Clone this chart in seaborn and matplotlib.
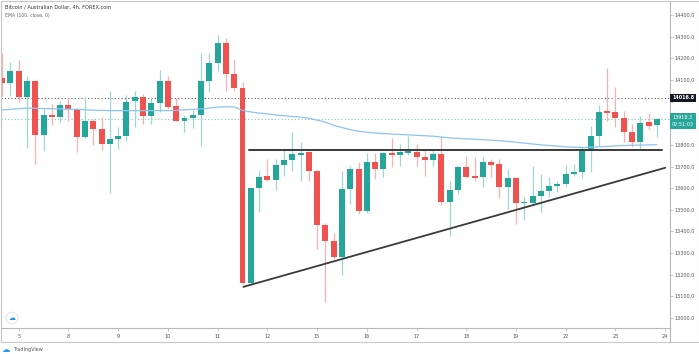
import numpy as np
import pandas as pd
import matplotlib
matplotlib.use("Agg")
import matplotlib.pyplot as plt
from matplotlib.lines import Line2D
from matplotlib.patches import Rectangle
import seaborn as sns

# ---- data (BTC/AUD, 4h candles) ----
opens = [14108, 14088, 14139, 14019, 14096, 13847, 13939, 13930, 13985, 13966,
         13835, 13912, 13874, 13804, 13827, 13843, 14001, 14022, 13932, 13993,
         14093, 13978, 13912, 13922, 13939, 14096, 14176, 14272, 14127, 14062,
         13160, 13600, 13654, 13639, 13709, 13731, 13754, 13766, 13681, 13428,
         13356, 13282, 13595, 13687, 13494, 13723, 13689, 13761, 13754, 13764,
         13769, 13743, 13731, 13757, 13534, 13593, 13697, 13654, 13651, 13720,
         13712, 13605, 13648, 13531, 13531, 13562, 13589, 13608, 13617, 13666,
         13675, 13781, 13843, 13955, 13950, 13924, 13861, 13812, 13904, 13890]
highs = [14226, 14183, 14191, 14119, 14100, 13966, 13989, 14004, 14019, 13970,
         14022, 13920, 13927, 14047, 13884, 14032, 14050, 14035, 14022, 14148,
         14119, 14016, 13939, 13961, 14224, 14224, 14308, 14295, 14196, 14091,
         13602, 13685, 13735, 13735, 13786, 13861, 13812, 13770, 13685, 13440,
         13393, 13681, 13704, 13720, 13761, 13761, 13766, 13832, 13804, 13843,
         13804, 13774, 13777, 13843, 13635, 13704, 13750, 13743, 13743, 13735,
         13735, 13689, 13650, 13558, 13704, 13666, 13651, 13635, 13709, 13712,
         13789, 13889, 13984, 14157, 14065, 13958, 13897, 13935, 13945, 13925]
lows = [14027, 14027, 13996, 13786, 13712, 13770, 13892, 13904, 13912, 13769,
        13832, 13801, 13778, 13577, 13781, 13816, 13881, 13897, 13897, 13950,
        13966, 13910, 13858, 13878, 13797, 14042, 14142, 14050, 14050, 13158,
        13152, 13489, 13635, 13593, 13654, 13681, 13635, 13631, 13321, 13075,
        13275, 13198, 13528, 13482, 13485, 13643, 13651, 13697, 13704, 13751,
        13704, 13658, 13704, 13520, 13377, 13574, 13645, 13635, 13605, 13651,
        13556, 13505, 13433, 13451, 13528, 13489, 13558, 13581, 13605, 13658,
        13648, 13674, 13797, 13912, 13881, 13812, 13792, 13781, 13874, 13835]
closes = [14088, 14139, 14019, 14096, 13847, 13938, 13927, 13985, 13966, 13838,
          13912, 13874, 13804, 13827, 13843, 13999, 14022, 13932, 13993, 14093,
          13976, 13912, 13924, 13939, 14096, 14176, 14272, 14127, 14062, 13160,
          13600, 13651, 13639, 13709, 13731, 13758, 13764, 13681, 13428, 13356,
          13282, 13595, 13687, 13494, 13723, 13689, 13761, 13754, 13769, 13770,
          13743, 13731, 13757, 13534, 13593, 13697, 13651, 13649, 13720, 13709,
          13605, 13648, 13531, 13536, 13562, 13589, 13608, 13617, 13666, 13675,
          13781, 13843, 13950, 13947, 13924, 13861, 13812, 13903, 13887, 13918.3]
ema100 = [13961, 13964, 13967, 13970, 13969, 13968, 13967, 13966, 13965, 13964,
          13962, 13960, 13959, 13958, 13958, 13958, 13958, 13958, 13958, 13958,
          13958, 13960, 13962, 13964, 13966, 13970, 13974, 13976, 13975, 13959,
          13952, 13947, 13943, 13938, 13935, 13931, 13928, 13923, 13914, 13905,
          13890, 13880, 13870, 13863, 13858, 13855, 13852, 13850, 13848, 13846,
          13844, 13842, 13840, 13836, 13832, 13830, 13828, 13826, 13824, 13822,
          13819, 13816, 13812, 13808, 13804, 13800, 13797, 13794, 13791, 13789,
          13788, 13789, 13791, 13793, 13795, 13797, 13798, 13799, 13800, 13801]

day_labels = ["5", "8", "9", "10", "11", "12", "15", "16", "17", "18", "19", "22", "23", "24"]
candles_per_day = 6
first_index = -2  # two candles of the previous day are visible on the left

price_ticks = [13000, 13100, 13200, 13300, 13400, 13500, 13600, 13700, 13800,
               13900, 14000, 14100, 14200, 14300, 14400]
hidden_ticks = [13900, 14000]  # covered by the price tags on the scale
high_level = 14016.8
last_price = 13918.3
countdown = "02:51:03"
resistance = 13776
resistance_span = [27.8, 77.6]
support_x = [27.1, 78.0]
support_y = [13144, 13694]

df = pd.DataFrame({"open": opens, "high": highs, "low": lows, "close": closes, "ema": ema100})
df["idx"] = np.arange(first_index, first_index + len(df))
df["up"] = df["close"] >= df["open"]

UP, DOWN = "#26a69a", "#ef5350"
UP_WICK, DOWN_WICK = "#9fd6d0", "#f7b2b0"

# ---- canvas ----
sns.set_theme(style="white")
plt.rcParams["font.family"] = ["DejaVu Sans"]
fig = plt.figure(figsize=(6.99, 3.54), dpi=100)
ax = fig.add_axes([1 / 699, 26 / 354, 669 / 699, 327 / 354])

# wicks
ax.vlines(df["idx"], df["low"], df["high"],
          colors=np.where(df["up"], UP_WICK, DOWN_WICK), linewidth=0.9, zorder=2)
# bodies
body_bottom = np.minimum(df["open"], df["close"])
body_height = np.maximum(np.abs(df["close"] - df["open"]), 2.5)
ax.bar(df["idx"], body_height, bottom=body_bottom, width=0.72,
       color=np.where(df["up"], UP, DOWN), linewidth=0, zorder=3)

# EMA 100
sns.lineplot(data=df, x="idx", y="ema", ax=ax, color="#8cc4f4", linewidth=0.9, zorder=4)

# horizontal levels
ax.axhline(high_level, color="#555555", linestyle=(0, (1, 2)), linewidth=0.8, zorder=1)
ax.axhline(last_price, color="#7cc7bf", linestyle=(0, (1, 2)), linewidth=0.8, zorder=1)

# drawn trend lines
ax.plot(resistance_span, [resistance, resistance], color="#3a3a3a", linewidth=1.4, zorder=5)
ax.plot(support_x, support_y, color="#3a3a3a", linewidth=1.3, zorder=5)

# ---- axes formatting ----
ax.set_xlim(-2.14, 78.58)
ax.set_ylim(12954, 14464.5)
ax.set_xlabel("")
ax.set_ylabel("")

day_pos = [i * candles_per_day for i in range(len(day_labels))]
ax.set_xticks(day_pos)
ax.set_xticklabels(day_labels)
ax.yaxis.tick_right()
ax.set_yticks(price_ticks)
ax.set_yticklabels(["" if p in hidden_ticks else f"{p:.1f}" for p in price_ticks])
ax.tick_params(axis="x", bottom=True, length=2, width=0.5, pad=2, labelsize=3.5,
               colors="#b0b0b0", labelcolor="#555555")
ax.tick_params(axis="y", right=True, left=False, length=2, width=0.5, pad=1.5,
               labelsize=3.5, colors="#b0b0b0", labelcolor="#555555")
for side in ["left", "right", "bottom"]:
    ax.spines[side].set_color("#b8b8b8")
    ax.spines[side].set_linewidth(0.8)
ax.spines["top"].set_visible(False)

# price labels on the scale
ytrans = ax.get_yaxis_transform()
ax.text(1.003, high_level, f"{high_level:.1f}", transform=ytrans, ha="left", va="center",
        fontsize=3.5, color="white", fontweight="bold", zorder=10, clip_on=False,
        bbox=dict(boxstyle="square,pad=0.35", fc="#131722", ec="none"))
ax.text(1.003, last_price - 8, f"{last_price:.1f}\n{countdown}", transform=ytrans,
        ha="left", va="center", fontsize=3.5, color="white", linespacing=1.6,
        zorder=10, clip_on=False,
        bbox=dict(boxstyle="square,pad=0.35", fc="#26a69a", ec="none"))

# header texts
fig.text(5 / 699, 1 - 7 / 354, "Bitcoin / Australian Dollar, 4h, FOREX.com",
         fontsize=3.6, color="#333333", va="center")
fig.text(5 / 699, 1 - 16 / 354, "EMA (100, close, 0)", fontsize=3.3,
         color="#666666", va="center")

# frame and footer
fig.add_artist(Rectangle((0.5 / 699, 12 / 354), 698 / 699, 341.5 / 354,
                         transform=fig.transFigure, fill=False, ec="#c8c8c8", lw=0.8))
fig.add_artist(Line2D([670 / 699, 670 / 699], [12 / 354, 26 / 354],
                      transform=fig.transFigure, color="#b8b8b8", lw=0.8))
fig.text(12 / 699, 1 - 318 / 354, "\u2601", fontsize=5, color="#2196f3",
         ha="center", va="center",
         bbox=dict(boxstyle="circle,pad=0.35", fc="white", ec="#e0e0e0", lw=0.6))
fig.text(2 / 699, 1 - 349 / 354, "\u2601", fontsize=6, color="#2196f3", va="center")
fig.text(13 / 699, 1 - 349 / 354, "TradingView", fontsize=3.5, color="#555555", va="center")

plt.savefig("out.png", dpi=100)
